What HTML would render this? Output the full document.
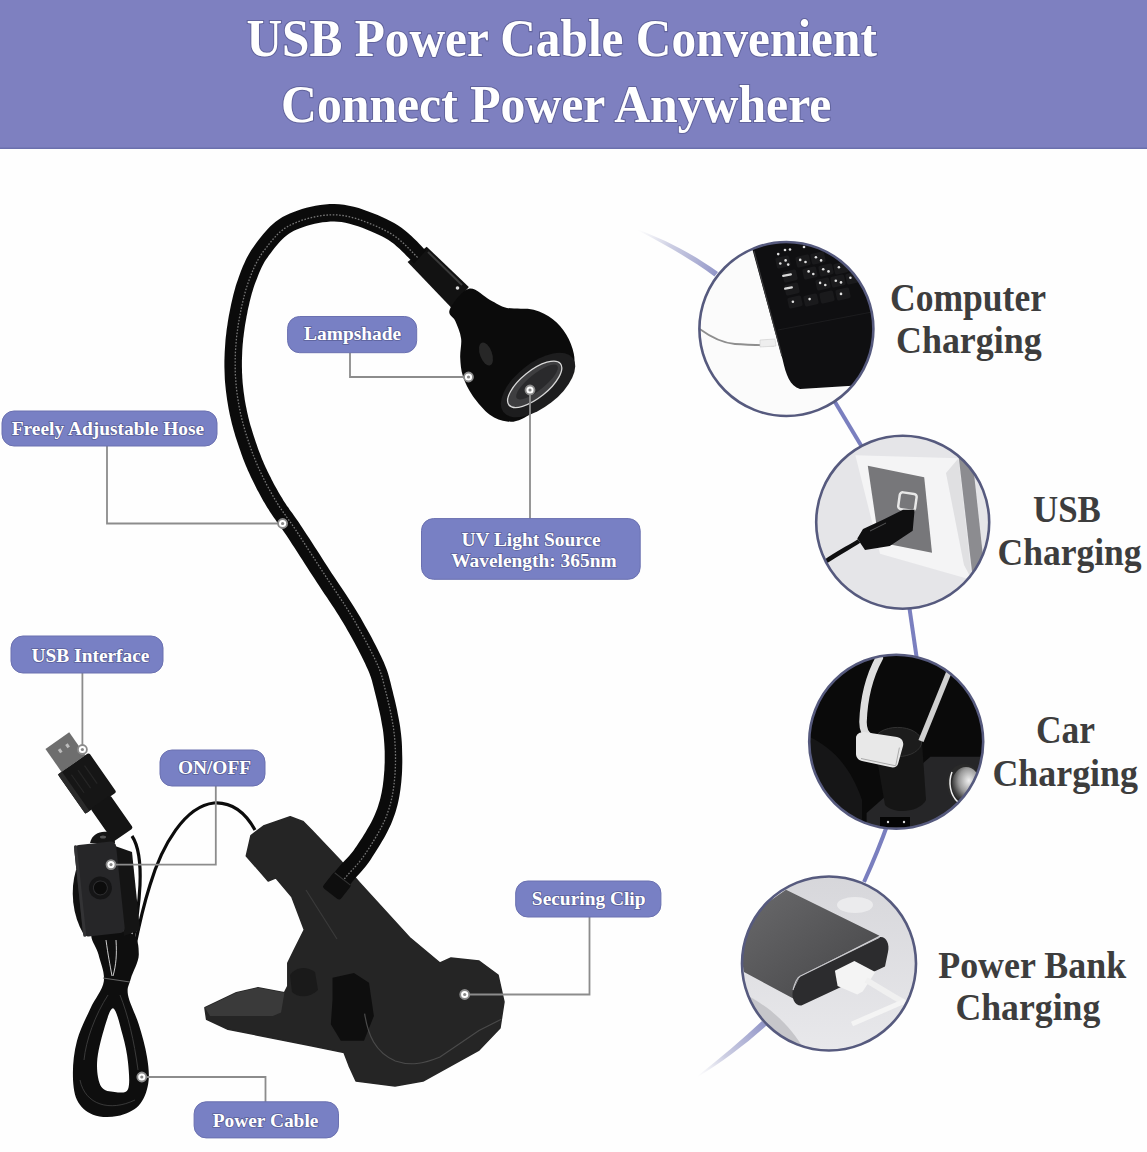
<!DOCTYPE html>
<html><head><meta charset="utf-8"><style>
html,body{margin:0;padding:0;background:#fefefe;width:1147px;height:1152px;overflow:hidden}
svg{display:block;font-family:"Liberation Serif",serif;font-weight:bold}
</style></head><body>
<svg width="1147" height="1152" viewBox="0 0 1147 1152">
<rect x="0" y="0" width="1147" height="149" fill="#7e80c0"/>
<rect x="0" y="147.5" width="1147" height="1.5" fill="#6b70ad"/>
<defs><linearGradient id="cg1" x1="638" y1="230" x2="717" y2="274" gradientUnits="userSpaceOnUse"><stop offset="0" stop-color="#d0d2e2" stop-opacity="0"/><stop offset="0.4" stop-color="#c0c2dc" stop-opacity="0.8"/><stop offset="1" stop-color="#9296c8"/></linearGradient><linearGradient id="cg2" x1="697" y1="1076" x2="764" y2="1023" gradientUnits="userSpaceOnUse"><stop offset="0" stop-color="#d0d2e2" stop-opacity="0"/><stop offset="0.4" stop-color="#c0c2dc" stop-opacity="0.8"/><stop offset="1" stop-color="#9296c8"/></linearGradient><radialGradient id="lens" cx="0.4" cy="0.5" r="0.6"><stop offset="0" stop-color="#444"/><stop offset="1" stop-color="#1a1a1a"/></radialGradient><linearGradient id="pb" x1="0" y1="0" x2="1" y2="1"><stop offset="0" stop-color="#6a6a6c"/><stop offset="1" stop-color="#444446"/></linearGradient><radialGradient id="silver" cx="0.6" cy="0.4" r="0.6"><stop offset="0" stop-color="#f0f0f0"/><stop offset="0.6" stop-color="#9a9a9a"/><stop offset="1" stop-color="#3a3a3a"/></radialGradient><linearGradient id="c4bg" x1="0" y1="0" x2="0" y2="1"><stop offset="0" stop-color="#d6d6da"/><stop offset="1" stop-color="#e9e9ec"/></linearGradient></defs>
<path d="M638,229.5 C665,240 690,252 718,272 L714.5,276.5 C688,257 662,243 638,230.5 Z" fill="url(#cg1)"/>
<path d="M697,1076.5 C720,1058 742,1040 762,1021 L766.5,1025.5 C746,1044 722,1062 697,1077.5 Z" fill="url(#cg2)"/>
<path d="M832,397 L862,447" stroke="#7a7fbf" stroke-width="4" fill="none"/>
<path d="M909,605 C912,625 914,640 917,660" stroke="#7a7fbf" stroke-width="4" fill="none"/>
<path d="M888,823 C882,840 874,860 864,882" stroke="#7a7fbf" stroke-width="4" fill="none"/>
<defs><clipPath id="cc0"><circle cx="786.4" cy="329" r="87"/></clipPath><clipPath id="cc1"><circle cx="902.7" cy="522.2" r="86.5"/></clipPath><clipPath id="cc2"><circle cx="896.2" cy="741.7" r="87"/></clipPath><clipPath id="cc3"><circle cx="829" cy="963.5" r="87"/></clipPath></defs>
<g clip-path="url(#cc0)"><rect x="690" y="235" width="200" height="190" fill="#fbfbfb"/><path d="M752,248 L782.6,359.5 C786,375 790,386 800,389 L848,386 L880,384 L880,240 L760,240 Z" fill="#0f0f11"/><path d="M754,251 L782,356" stroke="#3a3a3c" stroke-width="1.2"/><rect x="776.0" y="256.5" width="14" height="11" rx="2" fill="#1a1a1c" transform="rotate(-12 783 262)"/><rect x="796.0" y="255.5" width="14" height="11" rx="2" fill="#1a1a1c" transform="rotate(-12 803 261)"/><rect x="811.0" y="252.5" width="14" height="11" rx="2" fill="#1a1a1c" transform="rotate(-12 818 258)"/><rect x="803.0" y="267.5" width="14" height="11" rx="2" fill="#1a1a1c" transform="rotate(-12 810 273)"/><rect x="819.0" y="264.5" width="14" height="11" rx="2" fill="#1a1a1c" transform="rotate(-12 826 270)"/><rect x="834.0" y="262.5" width="14" height="11" rx="2" fill="#1a1a1c" transform="rotate(-12 841 268)"/><rect x="816.0" y="278.5" width="14" height="11" rx="2" fill="#1a1a1c" transform="rotate(-12 823 284)"/><rect x="831.0" y="275.5" width="14" height="11" rx="2" fill="#1a1a1c" transform="rotate(-12 838 281)"/><rect x="846.0" y="272.5" width="14" height="11" rx="2" fill="#1a1a1c" transform="rotate(-12 853 278)"/><rect x="783.0" y="270.5" width="14" height="11" rx="2" fill="#1a1a1c" transform="rotate(-12 790 276)"/><rect x="785.0" y="283.5" width="14" height="11" rx="2" fill="#1a1a1c" transform="rotate(-12 792 289)"/><rect x="788.0" y="296.5" width="14" height="11" rx="2" fill="#1a1a1c" transform="rotate(-12 795 302)"/><rect x="804.0" y="294.5" width="14" height="11" rx="2" fill="#1a1a1c" transform="rotate(-12 811 300)"/><rect x="820.0" y="291.5" width="14" height="11" rx="2" fill="#1a1a1c" transform="rotate(-12 827 297)"/><rect x="836.0" y="288.5" width="14" height="11" rx="2" fill="#1a1a1c" transform="rotate(-12 843 294)"/><circle cx="778.2" cy="254.1" r="1.3" fill="#e0e0e0"/><circle cx="785.6" cy="260.4" r="1.3" fill="#e0e0e0"/><circle cx="780.3" cy="263.5" r="1.3" fill="#e0e0e0"/><circle cx="788.2" cy="264.6" r="1.3" fill="#e0e0e0"/><circle cx="800.2" cy="259.9" r="1.3" fill="#e0e0e0"/><circle cx="805.5" cy="262" r="1.3" fill="#e0e0e0"/><circle cx="815.9" cy="257.3" r="1.3" fill="#e0e0e0"/><circle cx="821.1" cy="260.4" r="1.3" fill="#e0e0e0"/><circle cx="808.6" cy="271.4" r="1.3" fill="#e0e0e0"/><circle cx="813.3" cy="274" r="1.3" fill="#e0e0e0"/><circle cx="823.2" cy="269.3" r="1.3" fill="#e0e0e0"/><circle cx="828.5" cy="271.4" r="1.3" fill="#e0e0e0"/><circle cx="838.9" cy="267.2" r="1.3" fill="#e0e0e0"/><circle cx="820.1" cy="282.9" r="1.3" fill="#e0e0e0"/><circle cx="825.3" cy="285" r="1.3" fill="#e0e0e0"/><circle cx="835.8" cy="280.8" r="1.3" fill="#e0e0e0"/><circle cx="841" cy="282.4" r="1.3" fill="#e0e0e0"/><circle cx="850.4" cy="277.7" r="1.3" fill="#e0e0e0"/><circle cx="792.9" cy="301.7" r="1.3" fill="#e0e0e0"/><circle cx="809.6" cy="299.1" r="1.3" fill="#e0e0e0"/><circle cx="841" cy="293.9" r="1.3" fill="#e0e0e0"/><circle cx="785" cy="250" r="1.3" fill="#e0e0e0"/><circle cx="790" cy="249.5" r="1.3" fill="#e0e0e0"/><circle cx="804" cy="247" r="1.3" fill="#e0e0e0"/><rect x="782" y="274" width="10" height="2.2" rx="1" fill="#d8d8d8" transform="rotate(-10 787 275)"/><rect x="784" y="287" width="9" height="2.2" rx="1" fill="#d8d8d8" transform="rotate(-10 788 288)"/><path d="M778,330 L872,312" stroke="#1c1c1e" stroke-width="1.2"/><path d="M699.7,329 C712,338 722,343 735,344 C750,345 760,345 773.9,345.3" fill="none" stroke="#8e8e8e" stroke-width="1.8"/><path d="M760,340 L775,339 L776,346 L760,347 Z" fill="#eee" stroke="#ccc" stroke-width="0.6"/></g>
<g clip-path="url(#cc1)"><rect x="810" y="430" width="190" height="190" fill="#e5e5e8"/><path d="M855.4,455.3 L958.5,458.2 L972,580 L880,553.7 Z" fill="#f4f4f5"/><path d="M946,473 L958.5,458.2 L972,580 L964,565 Z" fill="#e0e0e2"/><path d="M867.8,465.8 L924.2,477.3 L932,552.8 L879,542.3 Z" fill="#77777a"/><path d="M958.5,455 L972,455 L985,575 L973,580 Z" fill="#8c8c90"/><rect x="899" y="493" width="17" height="17" rx="3" fill="none" stroke="#e8e8e8" stroke-width="2.5" transform="rotate(8 907 501)"/><path d="M903,509.8 L914.6,509.8 L912.7,530.8 L889.8,546 L865,550 L857.3,538.4 L863,528.9 L884,519.3 Z" fill="#0f0f10"/><path d="M859,541 C850,547 838,553 825,562" fill="none" stroke="#0f0f10" stroke-width="4.5"/><path d="M870,531 L886,523" stroke="#555" stroke-width="1"/></g>
<g clip-path="url(#cc2)"><rect x="800" y="650" width="190" height="190" fill="#0a0a0a"/><path d="M805,735 C830,745 850,765 862,800 L862,830 L805,830 Z" fill="#1e1e20" opacity="0.6"/><path d="M930.4,756.7 L990,756.7 L990,840 L866.6,840 L866.6,813 Z" fill="#262628"/><rect x="880" y="817" width="30" height="10" fill="#050505"/><circle cx="888" cy="822" r="1.2" fill="#ddd"/><circle cx="904" cy="822" r="1.2" fill="#ddd"/><path d="M874,742 L922,742 L926,800 C920,812 895,815 885,805 Z" fill="#151515"/><ellipse cx="897.6" cy="742" rx="24" ry="14.6" fill="#1c1c1c" stroke="#333" stroke-width="1"/><path d="M879.3,658 C870,675 864,695 863,722 C863,730 866,735 870,737" fill="none" stroke="#dedede" stroke-width="7.5" stroke-linecap="round"/><path d="M949,672 L921,741" fill="none" stroke="#d0d0d0" stroke-width="5.5"/><path d="M856,738 C856,734 860,732 864,732 L897,737 C902,738 904,742 903,746 L898,764 C897,767 894,768 890,767 L862,761 C858,760 856,757 856,754 Z" fill="#e8e8e8"/><path d="M861,758.5 L895.7,765.8 L899.4,747.6" fill="none" stroke="#aaa" stroke-width="1"/><ellipse cx="964" cy="784" rx="17" ry="20" fill="#2a2a2a"/><ellipse cx="966" cy="784" rx="14" ry="17" fill="url(#silver)"/><path d="M952,772 C948,782 950,795 958,802" fill="none" stroke="#f0f0f0" stroke-width="1.5"/></g>
<g clip-path="url(#cc3)"><rect x="735" y="870" width="190" height="190" fill="url(#c4bg)"/><path d="M735,990 C760,1000 790,1020 810,1060 L735,1060 Z" fill="#c6c6ca"/><ellipse cx="855" cy="905" rx="18" ry="8" fill="#f2f2f4" opacity="0.7"/><path d="M786,889.8 L879.5,935.8 L800,976.2 L793,988.8 L796,1000 L744,972 L738,940 L760,908 Z" fill="url(#pb)"/><path d="M800,976.2 L879.5,937.2 C886,936 890,944 888,952 L885,966.5 L801.4,1005.5 C795,1006 791,998 793,990 Z" fill="#2c2c2e"/><path d="M793,990 C795,982 797,978 800,976.2 L879.5,937.2" fill="none" stroke="#c8c8cc" stroke-width="1.1"/><path d="M834.9,970.7 L854.4,960.9 L875.3,972 L862.7,991.6 L857.2,994.4 L837.6,986 Z" fill="#f4f4f4"/><path d="M866,980 C880,988 890,995 905,1003" fill="none" stroke="#f0f0f0" stroke-width="6"/><path d="M852,1024 L905,1001" fill="none" stroke="#f4f4f4" stroke-width="5"/></g>
<circle cx="786.4" cy="329" r="87" fill="none" stroke="#565a7e" stroke-width="2.6"/>
<circle cx="902.7" cy="522.2" r="86.5" fill="none" stroke="#565a7e" stroke-width="2.6"/>
<circle cx="896.2" cy="741.7" r="87" fill="none" stroke="#565a7e" stroke-width="2.6"/>
<circle cx="829" cy="963.5" r="87" fill="none" stroke="#565a7e" stroke-width="2.6"/>
<path d="M426.7,246.7 L468.8,286.9 L451.6,307.9 L407.6,262.0Z" fill="#121212"/>
<path d="M428,252 L462,285" stroke="#3a3a3a" stroke-width="2" fill="none"/>
<circle cx="457.5" cy="288" r="1.8" fill="#ddd"/>
<path d="M468.8,288.8 C475.5,287.2 483.6,296.8 490.0,300.0 C496.4,303.2 499.7,306.3 507.0,307.9 C514.3,309.5 526.1,307.9 533.7,309.8 C541.3,311.7 547.4,315.2 552.8,319.3 C558.2,323.4 562.7,328.9 566.2,334.6 C569.7,340.3 572.7,348.0 573.8,353.7 C574.9,359.4 574.8,363.3 572.9,369.0 C571.0,374.7 567.0,382.3 562.4,388.0 C557.8,393.7 551.9,398.3 545.2,403.4 C538.5,408.5 528.7,415.7 522.3,418.7 C515.9,421.7 512.4,422.1 507.0,421.5 C501.6,420.9 495.5,419.1 489.8,414.8 C484.1,410.5 477.1,402.1 472.6,395.7 C468.1,389.3 465.1,383.0 463.0,376.6 C460.9,370.2 460.5,363.9 460.2,357.5 C459.9,351.1 461.9,344.4 461.1,338.4 C460.3,332.3 457.3,326.0 455.4,321.2 C453.5,316.4 447.5,315.2 449.7,309.8 C451.9,304.4 462.1,290.4 468.8,288.8Z" fill="#0b0b0b"/>
<ellipse cx="486" cy="354" rx="6" ry="12" transform="rotate(-20 486 354)" fill="#3a3a3a" opacity="0.6"/>
<ellipse cx="538" cy="385" rx="44" ry="22" transform="rotate(-38 538 385)" fill="#1d1d1e"/>
<ellipse cx="534.7" cy="384.3" rx="33" ry="13.5" transform="rotate(-38.8 534.7 384.3)" fill="#3e3e40" stroke="#d8d8d8" stroke-width="1.3"/>
<ellipse cx="537" cy="382" rx="26" ry="8" transform="rotate(-38.8 537 382)" fill="#2a2a2c"/>
<path d="M246.3,855.9 L251.0,835.5 L263.5,826.0 L290.2,816.7 L302.8,821.4 L312.2,830.8 L340.4,860.6 L359.3,882.6 L409.5,937.5 L440.0,963.0 L451.0,958.0 L479.0,961.0 L498.0,975.0 L504.0,1002.0 L500.0,1028.0 L479.0,1050.0 L423.0,1081.0 L395.0,1086.0 L356.0,1081.0 L349.0,1065.6 L344.0,1052.4 L311.0,1045.8 L228.0,1029.2 L206.6,1019.3 L204.9,1007.7 L236.4,992.8 L258.0,987.8 L284.4,992.8 L287.8,986.1 L287.8,963.0 L294.4,949.7 L304.3,929.8 L291.8,896.7 L276.0,877.9 L268.2,881.0Z" fill="#252525" stroke="#252525" stroke-width="1.5" stroke-linejoin="round"/>
<path d="M204.9,1007.7 L236.4,992.8 L258.0,987.8 L284.4,992.8 L281.1,1012.6 L272.9,1016.0 L210.0,1016.0Z" fill="#3a3a3a"/>
<path d="M332.5,977.8 L354.0,972.9 L369.0,982.8 L373.9,1016.0 L364.0,1040.8 L340.8,1040.8 L330.8,1024.2 L332.5,1000.0Z" fill="#0e0e0e"/>
<path d="M364.6,1013.7 C368,1035 375,1052 395.3,1061 C410,1066 423,1064 440,1057 L479,1030.4 L501.3,1019.3" fill="none" stroke="#4a4a4a" stroke-width="1.2"/>
<path d="M306,890 L337,939" stroke="#3a3a3a" stroke-width="1.2"/>
<path d="M290,975 C295,968 305,965 315,972 L318,990 C310,998 298,998 292,992 Z" fill="#1a1a1a"/>
<path d="M339.1,899.3 L339.8,898.4 L340.6,897.3 L341.5,896.0 L342.5,894.6 L343.7,893.1 L344.9,891.5 L346.1,889.8 L347.5,888.0 L348.8,886.3 L350.1,884.6 L351.4,882.9 L352.7,881.3 L353.8,879.9 L355.0,878.5 L356.3,877.0 L357.7,875.5 L359.1,873.9 L360.7,872.3 L362.2,870.5 L363.9,868.6 L365.6,866.5 L367.3,864.3 L369.0,861.9 L370.7,859.4 L372.4,856.8 L374.2,854.0 L376.1,851.1 L378.0,848.0 L380.0,844.8 L381.9,841.5 L383.9,838.2 L385.8,834.7 L387.6,831.3 L389.3,827.8 L390.9,824.4 L392.3,821.0 L393.5,817.8 L394.7,814.6 L395.7,811.4 L396.6,808.2 L397.5,805.1 L398.2,801.9 L398.9,798.7 L399.5,795.5 L400.0,792.2 L400.5,788.9 L400.9,785.4 L401.3,781.9 L401.6,778.3 L401.9,774.5 L402.1,770.7 L402.2,766.8 L402.3,762.8 L402.3,758.8 L402.2,754.8 L402.1,750.7 L402.0,746.7 L401.8,742.6 L401.5,738.6 L401.1,734.6 L400.6,730.5 L400.1,726.4 L399.4,722.2 L398.6,718.0 L397.8,713.9 L397.0,709.8 L396.1,705.7 L395.2,701.8 L394.3,698.1 L393.4,694.4 L392.6,691.1 L391.8,687.9 L391.1,685.1 L390.5,682.5 L389.9,680.2 L389.3,678.0 L388.7,675.8 L388.1,673.7 L387.4,671.6 L386.7,669.4 L385.8,667.2 L384.8,664.7 L383.7,662.1 L382.4,659.2 L380.9,656.0 L379.2,652.6 L377.5,649.0 L375.6,645.3 L373.6,641.5 L371.6,637.6 L369.4,633.6 L367.3,629.7 L365.0,625.7 L362.8,621.7 L360.6,617.8 L358.3,614.0 L356.0,610.3 L353.7,606.5 L351.3,602.7 L348.9,599.0 L346.5,595.3 L344.0,591.5 L341.5,587.8 L339.1,584.2 L336.6,580.5 L334.1,576.8 L331.7,573.2 L329.3,569.5 L326.9,565.8 L324.4,562.0 L321.9,558.0 L319.4,554.1 L316.8,550.1 L314.3,546.2 L311.8,542.3 L309.4,538.6 L307.0,535.0 L304.7,531.5 L302.6,528.2 L300.6,525.2 L298.7,522.3 L296.9,519.7 L295.3,517.4 L293.7,515.2 L292.2,513.1 L290.8,511.2 L289.5,509.4 L288.3,507.6 L287.0,505.9 L285.8,504.1 L284.6,502.3 L283.4,500.4 L282.2,498.3 L280.9,496.3 L279.7,494.2 L278.5,492.2 L277.3,490.1 L276.2,488.0 L275.0,486.0 L273.9,483.9 L272.8,481.8 L271.7,479.7 L270.7,477.6 L269.6,475.5 L268.6,473.4 L267.6,471.4 L266.7,469.4 L265.7,467.4 L264.8,465.4 L263.9,463.4 L263.1,461.4 L262.2,459.4 L261.3,457.3 L260.5,455.1 L259.6,452.8 L258.7,450.4 L257.8,447.9 L256.9,445.2 L255.9,442.5 L255.0,439.7 L254.0,436.8 L253.1,433.9 L252.2,431.0 L251.3,428.1 L250.4,425.2 L249.6,422.3 L248.9,419.5 L248.2,416.7 L247.6,413.9 L246.9,411.1 L246.4,408.3 L245.8,405.5 L245.3,402.7 L244.8,399.9 L244.4,397.1 L244.0,394.3 L243.6,391.6 L243.3,388.8 L243.0,386.0 L242.7,383.2 L242.5,380.5 L242.3,377.7 L242.2,374.9 L242.0,372.2 L242.0,369.4 L241.9,366.6 L241.9,363.8 L241.9,361.1 L242.0,358.3 L242.1,355.5 L242.2,352.7 L242.3,349.9 L242.5,347.1 L242.7,344.3 L243.0,341.5 L243.2,338.8 L243.6,336.0 L243.9,333.2 L244.3,330.4 L244.7,327.6 L245.1,324.8 L245.6,322.0 L246.1,319.2 L246.6,316.3 L247.2,313.5 L247.7,310.6 L248.3,307.8 L249.0,304.9 L249.6,302.0 L250.3,299.2 L251.0,296.4 L251.8,293.6 L252.6,290.9 L253.4,288.2 L254.3,285.6 L255.2,283.0 L256.2,280.4 L257.2,277.9 L258.1,275.4 L259.1,272.9 L260.2,270.6 L261.2,268.3 L262.3,266.0 L263.5,263.8 L264.7,261.6 L266.0,259.5 L267.5,257.4 L269.0,255.2 L270.8,252.9 L272.6,250.5 L274.5,248.1 L276.4,245.7 L278.3,243.4 L280.3,241.3 L282.3,239.2 L284.4,237.2 L286.6,235.4 L288.9,233.7 L291.3,232.2 L293.9,230.8 L296.8,229.5 L300.0,228.2 L303.5,226.9 L307.1,225.8 L310.8,224.7 L314.7,223.7 L318.6,223.0 L322.6,222.3 L326.5,221.9 L330.4,221.6 L334.2,221.6 L337.8,221.7 L341.5,222.1 L345.4,222.8 L349.5,223.8 L353.7,224.9 L358.0,226.3 L362.3,227.8 L366.5,229.4 L370.7,231.2 L374.7,233.0 L378.6,234.8 L382.3,236.6 L385.5,238.3 L388.5,240.1 L391.3,242.0 L394.1,244.1 L396.8,246.4 L399.5,248.8 L402.0,251.2 L404.4,253.6 L406.7,255.9 L408.8,258.1 L410.7,260.1 L412.5,262.0 L414.0,263.4 L426.0,250.6 L424.7,249.4 L423.2,247.9 L421.4,246.0 L419.2,243.8 L416.9,241.3 L414.2,238.7 L411.4,236.0 L408.3,233.2 L405.0,230.5 L401.5,227.8 L397.8,225.3 L394.1,223.1 L390.2,221.0 L386.3,219.1 L382.0,217.1 L377.6,215.1 L373.0,213.2 L368.3,211.4 L363.5,209.7 L358.7,208.1 L353.8,206.8 L348.9,205.7 L344.0,204.8 L339.2,204.3 L334.4,204.1 L329.7,204.1 L324.9,204.4 L320.2,205.0 L315.5,205.7 L310.9,206.7 L306.4,207.8 L302.0,209.0 L297.8,210.4 L293.7,211.9 L289.8,213.5 L286.1,215.2 L282.5,217.1 L279.1,219.2 L275.9,221.6 L272.9,224.0 L270.1,226.6 L267.5,229.2 L265.1,231.9 L262.9,234.6 L260.7,237.2 L258.7,239.8 L256.8,242.3 L255.0,244.8 L253.1,247.4 L251.3,250.0 L249.7,252.7 L248.1,255.4 L246.7,258.1 L245.4,260.8 L244.2,263.5 L243.0,266.1 L241.9,268.8 L240.8,271.5 L239.8,274.2 L238.8,277.0 L237.8,279.9 L236.8,282.8 L235.8,285.8 L235.0,288.8 L234.1,291.9 L233.3,294.9 L232.6,298.0 L231.9,301.0 L231.2,304.1 L230.6,307.1 L230.0,310.1 L229.4,313.1 L228.8,316.0 L228.3,319.0 L227.8,322.0 L227.4,325.0 L226.9,328.0 L226.5,330.9 L226.2,333.9 L225.8,336.9 L225.5,339.9 L225.3,342.9 L225.1,345.9 L224.9,348.9 L224.7,351.9 L224.6,354.9 L224.5,357.8 L224.4,360.8 L224.4,363.8 L224.4,366.8 L224.5,369.8 L224.6,372.8 L224.7,375.8 L224.8,378.8 L225.0,381.8 L225.3,384.8 L225.6,387.8 L225.9,390.8 L226.3,393.8 L226.7,396.8 L227.1,399.8 L227.6,402.8 L228.1,405.8 L228.6,408.8 L229.2,411.8 L229.8,414.7 L230.5,417.7 L231.2,420.7 L231.9,423.8 L232.8,426.9 L233.6,430.0 L234.5,433.1 L235.4,436.2 L236.4,439.2 L237.4,442.3 L238.4,445.3 L239.4,448.2 L240.4,451.0 L241.3,453.8 L242.3,456.4 L243.2,459.0 L244.2,461.4 L245.1,463.8 L246.0,466.1 L247.0,468.3 L247.9,470.5 L248.9,472.6 L249.9,474.8 L250.9,476.9 L251.9,479.0 L252.9,481.1 L254.0,483.3 L255.1,485.5 L256.2,487.7 L257.3,489.9 L258.5,492.1 L259.7,494.3 L260.9,496.5 L262.1,498.7 L263.3,500.9 L264.6,503.1 L265.9,505.3 L267.2,507.4 L268.6,509.6 L269.9,511.8 L271.3,513.8 L272.6,515.8 L274.0,517.7 L275.3,519.6 L276.6,521.5 L278.0,523.4 L279.5,525.3 L280.9,527.4 L282.5,529.7 L284.2,532.2 L286.0,534.8 L288.0,537.8 L290.1,541.1 L292.3,544.5 L294.7,548.1 L297.1,551.8 L299.6,555.7 L302.1,559.6 L304.6,563.6 L307.2,567.5 L309.7,571.4 L312.2,575.3 L314.7,579.1 L317.1,582.8 L319.6,586.5 L322.0,590.2 L324.5,593.9 L327.0,597.6 L329.4,601.3 L331.9,604.9 L334.3,608.5 L336.6,612.2 L338.9,615.8 L341.1,619.4 L343.3,623.0 L345.4,626.6 L347.6,630.4 L349.8,634.3 L351.9,638.1 L354.1,642.0 L356.1,645.8 L358.1,649.6 L360.0,653.3 L361.8,656.8 L363.5,660.2 L365.1,663.4 L366.4,666.4 L367.6,669.1 L368.7,671.5 L369.5,673.6 L370.2,675.5 L370.9,677.2 L371.4,678.9 L371.9,680.6 L372.4,682.5 L372.9,684.5 L373.5,686.7 L374.1,689.2 L374.8,692.1 L375.6,695.2 L376.4,698.6 L377.3,702.1 L378.1,705.8 L379.0,709.6 L379.9,713.4 L380.7,717.3 L381.4,721.3 L382.1,725.2 L382.8,729.0 L383.3,732.8 L383.7,736.4 L384.0,740.0 L384.3,743.7 L384.5,747.5 L384.7,751.3 L384.7,755.0 L384.7,758.8 L384.7,762.5 L384.5,766.2 L384.4,769.8 L384.1,773.3 L383.8,776.8 L383.5,780.1 L383.1,783.3 L382.7,786.4 L382.2,789.3 L381.7,792.2 L381.1,795.0 L380.5,797.7 L379.8,800.4 L379.0,803.1 L378.2,805.8 L377.3,808.5 L376.2,811.2 L375.1,814.0 L373.9,816.8 L372.5,819.7 L371.0,822.7 L369.3,825.7 L367.5,828.8 L365.7,831.9 L363.8,835.0 L362.0,837.9 L360.1,840.8 L358.3,843.6 L356.5,846.2 L354.9,848.6 L353.4,850.7 L352.0,852.6 L350.5,854.3 L349.1,855.9 L347.7,857.5 L346.3,859.1 L344.8,860.6 L343.4,862.1 L341.9,863.6 L340.4,865.3 L338.8,866.9 L337.3,868.7 L335.9,870.4 L334.5,872.2 L333.0,874.0 L331.6,875.7 L330.2,877.5 L328.9,879.2 L327.6,880.8 L326.4,882.3 L325.3,883.7 L324.4,884.9 L323.6,885.9 L322.9,886.7Z" fill="#0b0b0b"/>
<path d="M332.6,894.2 L333.2,893.4 L334.1,892.3 L335.0,891.0 L336.1,889.7 L337.2,888.1 L338.5,886.5 L339.8,884.8 L341.1,883.1 L342.5,881.4 L343.9,879.6 L345.2,877.9 L346.5,876.3 L347.9,874.7 L349.2,873.2 L350.6,871.7 L352.0,870.2 L353.5,868.6 L354.9,867.0 L356.5,865.3 L358.0,863.6 L359.6,861.7 L361.2,859.6 L362.8,857.5 L364.5,855.1 L366.1,852.6 L367.9,849.9 L369.8,847.0 L371.7,844.0 L373.6,840.9 L375.5,837.7 L377.4,834.5 L379.3,831.2 L381.0,827.9 L382.7,824.6 L384.2,821.4 L385.6,818.3 L386.8,815.2 L387.8,812.2 L388.8,809.2 L389.7,806.2 L390.6,803.3 L391.3,800.3 L392.0,797.3 L392.6,794.2 L393.1,791.1 L393.6,787.9 L394.0,784.6 L394.4,781.2 L394.7,777.7 L395.0,774.1 L395.2,770.4 L395.4,766.6 L395.5,762.7 L395.5,758.8 L395.5,754.9 L395.4,750.9 L395.2,747.0 L395.0,743.1 L394.7,739.2 L394.4,735.3 L393.9,731.4 L393.4,727.4 L392.7,723.4 L392.0,719.3 L391.2,715.2 L390.4,711.2 L389.5,707.2 L388.6,703.4 L387.7,699.6 L386.9,696.0 L386.0,692.7 L385.2,689.5 L384.5,686.7 L383.9,684.1 L383.3,681.8 L382.8,679.7 L382.2,677.7 L381.7,675.7 L381.0,673.8 L380.3,671.8 L379.5,669.6 L378.6,667.3 L377.5,664.8 L376.2,662.0 L374.8,658.9 L373.2,655.5 L371.4,652.0 L369.6,648.4 L367.6,644.6 L365.6,640.8 L363.5,636.9 L361.3,632.9 L359.2,629.0 L356.9,625.1 L354.7,621.2 L352.5,617.5 L350.3,613.8 L348.0,610.1 L345.6,606.4 L343.3,602.7 L340.8,599.0 L338.4,595.3 L335.9,591.6 L333.4,587.9 L331.0,584.2 L328.5,580.6 L326.1,576.9 L323.7,573.2 L321.2,569.5 L318.8,565.6 L316.2,561.7 L313.7,557.7 L311.1,553.8 L308.6,549.9 L306.1,546.0 L303.7,542.3 L301.3,538.6 L299.1,535.2 L297.0,531.9 L295.0,528.9 L293.1,526.1 L291.4,523.6 L289.7,521.3 L288.2,519.1 L286.7,517.1 L285.4,515.2 L284.0,513.3 L282.7,511.5 L281.5,509.7 L280.2,507.9 L279.0,506.0 L277.7,503.9 L276.4,501.8 L275.1,499.7 L273.9,497.6 L272.7,495.5 L271.5,493.4 L270.3,491.3 L269.1,489.2 L268.0,487.0 L266.8,484.9 L265.7,482.8 L264.7,480.6 L263.6,478.5 L262.6,476.4 L261.5,474.3 L260.6,472.3 L259.6,470.2 L258.7,468.2 L257.8,466.2 L256.9,464.1 L256.0,462.0 L255.1,459.8 L254.2,457.5 L253.3,455.2 L252.4,452.7 L251.4,450.1 L250.5,447.5 L249.5,444.7 L248.6,441.8 L247.6,438.9 L246.7,436.0 L245.7,433.0 L244.8,430.0 L244.0,427.0 L243.1,424.1 L242.4,421.1 L241.6,418.2 L241.0,415.4 L240.3,412.5 L239.8,409.6 L239.2,406.8 L238.7,403.9 L238.2,401.0 L237.7,398.1 L237.3,395.3 L236.9,392.4 L236.6,389.6 L236.3,386.7 L236.0,383.8 L235.8,381.0 L235.6,378.1 L235.4,375.3 L235.3,372.4 L235.2,369.5 L235.2,366.7 L235.2,363.8 L235.2,361.0 L235.2,358.1 L235.3,355.2 L235.4,352.4 L235.6,349.5 L235.8,346.7 L236.0,343.8 L236.2,340.9 L236.5,338.0 L236.8,335.2 L237.2,332.3 L237.6,329.4 L238.0,326.6 L238.4,323.7 L238.9,320.8 L239.4,318.0 L240.0,315.1 L240.5,312.2 L241.1,309.3 L241.7,306.3 L242.4,303.4 L243.1,300.5 L243.8,297.5 L244.5,294.6 L245.3,291.8 L246.1,288.9 L247.0,286.1 L247.9,283.4 L248.9,280.7 L249.9,278.0 L250.9,275.4 L251.9,272.8 L252.9,270.3 L254.0,267.8 L255.1,265.4 L256.3,263.0 L257.6,260.6 L258.9,258.2 L260.4,255.9 L261.9,253.5 L263.6,251.2 L265.4,248.8 L267.3,246.3 L269.2,243.9 L271.2,241.4 L273.2,239.0 L275.4,236.6 L277.6,234.3 L280.0,232.1 L282.5,230.1 L285.1,228.1 L287.9,226.4 L290.9,224.8 L294.1,223.3 L297.6,221.9 L301.3,220.5 L305.1,219.3 L309.1,218.2 L313.2,217.2 L317.4,216.3 L321.6,215.6 L325.9,215.1 L330.1,214.9 L334.3,214.8 L338.3,215.0 L342.5,215.5 L346.7,216.2 L351.1,217.2 L355.6,218.4 L360.1,219.9 L364.6,221.5 L369.0,223.2 L373.4,225.0 L377.6,226.8 L381.6,228.7 L385.3,230.6 L388.8,232.4 L392.1,234.4 L395.2,236.5 L398.3,238.8 L401.2,241.3 L404.0,243.8 L406.7,246.4 L409.2,248.9 L411.5,251.3 L413.6,253.5 L415.5,255.4 L417.2,257.1 L418.6,258.5" fill="none" stroke="#8a8a8a" stroke-width="1.3" stroke-dasharray="1.6 1.6" opacity="0.85"/>
<g transform="translate(337,886) rotate(38)"><rect x="-11" y="-10" width="22" height="20" rx="3" fill="#0e0e0e"/><path d="M-10,-9 L10,-9" stroke="#333" stroke-width="1"/></g>
<path d="M255,830 C245,812 232,802 214,803 C185,806 162,845 150,885 C142,910 138,930 134,950" fill="none" stroke="#0c0c0c" stroke-width="3.2"/>
<path d="M132,836 C138,845 141,860 140,885 C139,905 137,920 133,940" fill="none" stroke="#0c0c0c" stroke-width="3.2"/>
<path d="M93.0,933.0 C98.4,929.4 123.2,929.4 130.8,933.0 C138.4,936.6 138.8,947.0 138.8,954.6 C138.8,962.2 132.6,972.1 130.8,978.8 C129.0,985.5 126.7,987.4 128.0,995.0 C129.3,1002.6 135.6,1014.3 138.8,1024.6 C142.0,1034.9 145.4,1047.1 147.0,1057.0 C148.6,1066.9 149.6,1075.7 148.2,1083.8 C146.8,1091.9 144.0,1100.0 138.8,1105.4 C133.7,1110.8 124.9,1114.5 117.3,1116.0 C109.7,1117.5 99.7,1117.4 93.0,1114.7 C86.3,1112.0 80.3,1107.0 77.0,1100.0 C73.7,1093.0 72.9,1082.9 72.9,1073.0 C72.9,1063.1 74.1,1051.5 77.0,1040.7 C79.9,1029.9 85.9,1018.3 90.4,1008.4 C94.9,998.5 102.5,990.5 103.8,981.5 C105.1,972.5 100.3,962.7 98.5,954.6 C96.7,946.5 87.6,936.6 93.0,933.0Z M113.3,1008.4 C116.5,1009.3 120.2,1026.3 122.7,1035.3 C125.2,1044.3 127.1,1053.3 128.0,1062.3 C128.9,1071.3 130.2,1084.3 128.0,1089.2 C125.8,1094.1 119.1,1092.4 114.6,1091.9 C110.1,1091.5 104.0,1091.4 101.1,1086.5 C98.2,1081.6 96.6,1071.7 97.1,1062.3 C97.5,1052.9 101.1,1039.0 103.8,1030.0 C106.5,1021.0 110.1,1007.5 113.3,1008.4Z" fill="#0e0e0e" fill-rule="evenodd"/>
<path d="M80,1080 C85,1105 110,1112 135,1100" fill="none" stroke="#555" stroke-width="1" opacity="0.6"/>
<path d="M103,978 L130,982" stroke="#666" stroke-width="1.2"/>
<path d="M106,940 C108,955 110,965 112,976 M116,940 C117,955 116,965 113,976" fill="none" stroke="#fdfdfd" stroke-width="1" opacity="0.8"/>
<path d="M84,1060 C86,1040 95,1015 108,995 M138,1070 C134,1040 128,1015 120,995" fill="none" stroke="#3a3a3a" stroke-width="1"/>
<path d="M115,846 L132,852 L140,930 L124,936 Z" fill="#141414"/>
<path d="M76,870 C70,890 72,915 84,935 L90,935 L80,870 Z" fill="#111"/>
<path d="M90,843 C92,834 100,831 107,832 C113,833 115,838 115,843 Z" fill="#151515"/><ellipse cx="103" cy="837" rx="3" ry="1.5" fill="#555"/>
<g transform="translate(99.5,889) rotate(-6)"><rect x="-21" y="-46" width="42" height="92" rx="5" fill="#262628"/><rect x="-21" y="-46" width="3" height="92" rx="1.5" fill="#333335"/><circle cx="1" cy="-1" r="11.5" fill="#151516"/><circle cx="1" cy="-1" r="7" fill="#0c0c0c" stroke="#2e2e30" stroke-width="1"/></g>
<g transform="translate(73.4,763.6) rotate(-35)"><rect x="-14.5" y="-28" width="29" height="28" fill="#6e6e6e"/><rect x="-5" y="-20" width="3" height="4" fill="#ddd" opacity="0.7"/><rect x="4" y="-20" width="3" height="4" fill="#ddd" opacity="0.7"/><rect x="-19" y="0" width="38" height="48" rx="2" fill="#161616"/><rect x="-19" y="0" width="5" height="48" fill="#2a2a2a"/><path d="M-8,8 L-8,30 M0,8 L0,30 M8,8 L8,30" stroke="#262626" stroke-width="1.2"/><rect x="-12" y="47" width="24" height="40" rx="2" fill="#141414"/></g>
<path d="M107,446 L107,523.5 L282.6,523.5" fill="none" stroke="#8c8c8c" stroke-width="1.8"/>
<path d="M350,353 L350,377 L468.5,377" fill="none" stroke="#8c8c8c" stroke-width="1.8"/>
<path d="M530,390 L530,519" fill="none" stroke="#8c8c8c" stroke-width="1.8"/>
<path d="M82.4,673 L82.4,749.5" fill="none" stroke="#8c8c8c" stroke-width="1.8"/>
<path d="M215.8,786 L215.8,864.6 L111,864.6" fill="none" stroke="#8c8c8c" stroke-width="1.8"/>
<path d="M589.5,917 L589.5,994.5 L464.7,994.5" fill="none" stroke="#8c8c8c" stroke-width="1.8"/>
<path d="M141.8,1077 L265.5,1077 L265.5,1102" fill="none" stroke="#8c8c8c" stroke-width="1.8"/>
<circle cx="282.6" cy="523.5" r="4.5" fill="#fff" stroke="#8a8a8a" stroke-width="1.8"/><circle cx="282.6" cy="523.5" r="1.6" fill="#888"/>
<circle cx="468.5" cy="377" r="4.5" fill="#fff" stroke="#8a8a8a" stroke-width="1.8"/><circle cx="468.5" cy="377" r="1.6" fill="#888"/>
<circle cx="530" cy="390" r="4.5" fill="#fff" stroke="#8a8a8a" stroke-width="1.8"/><circle cx="530" cy="390" r="1.6" fill="#888"/>
<circle cx="82.4" cy="749.5" r="4.5" fill="#fff" stroke="#8a8a8a" stroke-width="1.8"/><circle cx="82.4" cy="749.5" r="1.6" fill="#888"/>
<circle cx="111" cy="864.6" r="4.5" fill="#fff" stroke="#8a8a8a" stroke-width="1.8"/><circle cx="111" cy="864.6" r="1.6" fill="#888"/>
<circle cx="464.7" cy="994.5" r="4.5" fill="#fff" stroke="#8a8a8a" stroke-width="1.8"/><circle cx="464.7" cy="994.5" r="1.6" fill="#888"/>
<circle cx="141.8" cy="1077" r="4.5" fill="#fff" stroke="#8a8a8a" stroke-width="1.8"/><circle cx="141.8" cy="1077" r="1.6" fill="#888"/>
<rect x="2" y="411" width="215" height="35" rx="12" fill="#7880c4" stroke="#6a70b0" stroke-width="1"/>
<text x="108.0" y="434.5" text-anchor="middle" font-size="19.4" fill="#fff" stroke="#454a7a" stroke-width="1.6" stroke-opacity="0.6" paint-order="stroke">Freely Adjustable Hose</text>
<rect x="287.6" y="316.5" width="129.09999999999997" height="36.19999999999999" rx="12" fill="#7880c4" stroke="#6a70b0" stroke-width="1"/>
<text x="352.6" y="340.3" text-anchor="middle" font-size="19.4" fill="#fff" stroke="#454a7a" stroke-width="1.6" stroke-opacity="0.6" paint-order="stroke">Lampshade</text>
<rect x="421.5" y="518.6" width="218.70000000000005" height="60.69999999999993" rx="12" fill="#7880c4" stroke="#6a70b0" stroke-width="1"/>
<text x="531.05" y="545.8" text-anchor="middle" font-size="19.4" fill="#fff" stroke="#454a7a" stroke-width="1.6" stroke-opacity="0.6" paint-order="stroke">UV Light Source</text>
<text x="533.95" y="567.4" text-anchor="middle" font-size="19.4" fill="#fff" stroke="#454a7a" stroke-width="1.6" stroke-opacity="0.6" paint-order="stroke">Wavelength: 365nm</text>
<rect x="11" y="636" width="152" height="37" rx="12" fill="#7880c4" stroke="#6a70b0" stroke-width="1"/>
<text x="90.5" y="661.8" text-anchor="middle" font-size="19.4" fill="#fff" stroke="#454a7a" stroke-width="1.6" stroke-opacity="0.6" paint-order="stroke">USB Interface</text>
<rect x="160" y="750" width="105" height="36" rx="12" fill="#7880c4" stroke="#6a70b0" stroke-width="1"/>
<text x="214.5" y="774" text-anchor="middle" font-size="19.4" fill="#fff" stroke="#454a7a" stroke-width="1.6" stroke-opacity="0.6" paint-order="stroke">ON/OFF</text>
<rect x="515.7" y="881" width="145.19999999999993" height="36" rx="12" fill="#7880c4" stroke="#6a70b0" stroke-width="1"/>
<text x="588.7" y="904.8" text-anchor="middle" font-size="19.4" fill="#fff" stroke="#454a7a" stroke-width="1.6" stroke-opacity="0.6" paint-order="stroke">Securing Clip</text>
<rect x="194.1" y="1101.8" width="144.4" height="36.100000000000136" rx="12" fill="#7880c4" stroke="#6a70b0" stroke-width="1"/>
<text x="265.54999999999995" y="1126.9" text-anchor="middle" font-size="19.4" fill="#fff" stroke="#454a7a" stroke-width="1.6" stroke-opacity="0.6" paint-order="stroke">Power Cable</text>
<text x="0" y="0" font-size="53" fill="#fff" stroke="#4a4c80" stroke-width="2.2" stroke-opacity="0.55" paint-order="stroke" transform="translate(246.5,56) scale(0.9303,1)">USB Power Cable Convenient</text>
<text x="0" y="0" font-size="53" fill="#fff" stroke="#4a4c80" stroke-width="2.2" stroke-opacity="0.55" paint-order="stroke" transform="translate(281,122) scale(0.9380,1)">Connect Power Anywhere</text>
<text x="0" y="0" font-size="39" fill="#3d3d3d" transform="translate(890,311) scale(0.9116,1)">Computer</text>
<text x="0" y="0" font-size="37" fill="#3d3d3d" transform="translate(896,352.8) scale(0.9709,1)">Charging</text>
<text x="0" y="0" font-size="38" fill="#3d3d3d" transform="translate(1033,522.2) scale(0.9173,1)">USB</text>
<text x="0" y="0" font-size="38" fill="#3d3d3d" transform="translate(997.5,565.2) scale(0.9349,1)">Charging</text>
<text x="0" y="0" font-size="39" fill="#3d3d3d" transform="translate(1036,743) scale(0.9081,1)">Car</text>
<text x="0" y="0" font-size="38.5" fill="#3d3d3d" transform="translate(992.4,786) scale(0.9324,1)">Charging</text>
<text x="0" y="0" font-size="37.5" fill="#3d3d3d" transform="translate(938.2,977.6) scale(0.9582,1)">Power Bank</text>
<text x="0" y="0" font-size="37" fill="#3d3d3d" transform="translate(955.5,1020.4) scale(0.9649,1)">Charging</text>
</svg>
</body></html>
